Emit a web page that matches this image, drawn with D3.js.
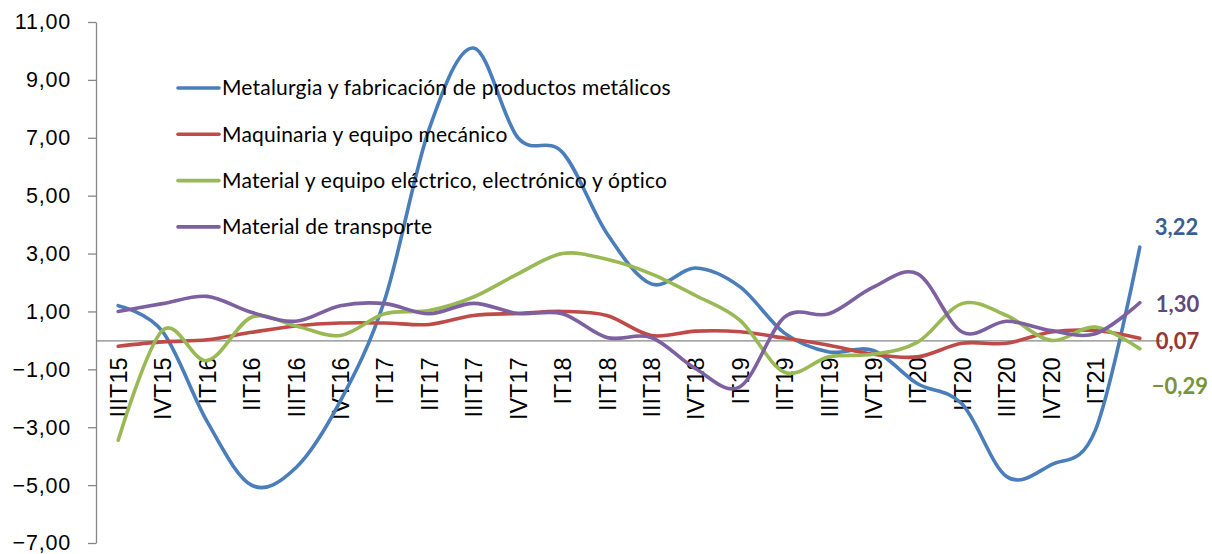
<!DOCTYPE html>
<html>
<head>
<meta charset="utf-8">
<script src="https://cdn.jsdelivr.net/npm/d3@7"></script>
<style>
  body { margin: 0; background: #fff; }
  svg { display: block; font-family: Lato, "Open Sans", sans-serif; }
  .axis path, .axis line { stroke: #868686; stroke-width: 1.3; }
  .axis text { fill: #000; }
  .series { fill: none; stroke-width: 3.6; stroke-linecap: round; stroke-linejoin: round; }
  .legend text { font-size: 21px; letter-spacing: 0.2px; fill: #000; }
  .end-label { font-size: 22px; font-weight: bold; }
</style>
</head>
<body>
<div id="chart"></div>
<script>
var width = 1212, height = 554;

// quarters (last one has no visible label in the original)
var quarters = ["IIIT15", "IVT15", "IT16", "IIT16", "IIIT16", "IVT16", "IT17", "IIT17",
  "IIIT17", "IVT17", "IT18", "IIT18", "IIIT18", "IVT18", "IT19", "IIT19", "IIIT19",
  "IVT19", "IT20", "IIT20", "IIIT20", "IVT20", "IT21", "IIT21"];
var hiddenLabels = ["IIT21"];

var yTicks = [-7, -5, -3, -1, 1, 3, 5, 7, 9, 11];

var metalurgia = [1.2, 0.3, -2.8, -5.0, -4.4, -2.1, 1.4, 7.3, 10.1, 7.0, 6.5, 3.7,
  1.95, 2.5, 1.85, 0.25, -0.4, -0.35, -1.5, -2.2, -4.7, -4.3, -3.1, 3.22];
var maquinaria = [-0.2, -0.05, 0.02, 0.28, 0.5, 0.6, 0.6, 0.55, 0.86, 0.93, 1.0, 0.86,
  0.17, 0.32, 0.3, 0.08, -0.17, -0.48, -0.57, -0.1, -0.1, 0.29, 0.34, 0.07];
var electrico = [-3.45, 0.35, -0.7, 0.8, 0.5, 0.17, 0.92, 1.03, 1.5, 2.3, 3.0, 2.8,
  2.3, 1.55, 0.69, -1.1, -0.57, -0.48, -0.06, 1.27, 0.86, 0.0, 0.46, -0.29];
var transporte = [1.0, 1.27, 1.52, 0.97, 0.66, 1.2, 1.27, 0.92, 1.28, 0.93, 0.92, 0.1,
  0.1, -0.98, -1.6, 0.8, 0.92, 1.84, 2.3, 0.29, 0.66, 0.34, 0.23, 1.30];

var seriesNames = ["Metalurgia y fabricación de productos metálicos",
  "Maquinaria y equipo mecánico",
  "Material y equipo eléctrico, electrónico y óptico",
  "Material de transporte"];
var seriesColors = ["#4a7ebb", "#be4b48", "#98b954", "#7d60a0"];
var labelColors = ["#376092", "#953735", "#77933c", "#604a7b"];
// nudge of the end labels (px), as placed in the original
var labelShift = [-20, 3, 38, 2];
var labelDx = [15, 16, 12, 16];

var es = d3.formatLocale({decimal: ",", thousands: ".", grouping: [3], currency: ["", "€"]});
var fmt = es.format(".2f");

var allSeries = [metalurgia, maquinaria, electrico, transporte].map(function(v, i) {
  return {name: seriesNames[i], values: v, color: seriesColors[i],
          labelColor: labelColors[i], shift: labelShift[i], dx: labelDx[i]};
});

var svg = d3.select("#chart").append("svg")
  .attr("width", width)
  .attr("height", height);

var x = d3.scalePoint()
  .domain(quarters)
  .range([96, 1162])
  .padding(0.5);

var y = d3.scaleLinear()
  .domain([-7, 11])
  .range([543, 22]);

// y axis
var yAxis = svg.append("g")
  .attr("class", "axis")
  .attr("transform", "translate(96,0)")
  .call(d3.axisLeft(y).tickValues(yTicks).tickFormat(fmt)
    .tickSize(8).tickSizeOuter(0).tickPadding(17));
yAxis.selectAll("text")
  .style("font-size", "21.5px")
  .style("letter-spacing", "0.8px");

// x axis on the zero line
var xAxis = svg.append("g")
  .attr("class", "axis")
  .attr("transform", "translate(0," + y(0) + ")")
  .call(d3.axisBottom(x).tickSize(0).tickSizeOuter(0)
    .tickFormat(function(d) { return hiddenLabels.indexOf(d) >= 0 ? "" : d; }));
xAxis.select(".domain").attr("d", "M96,0.5H1162");
xAxis.selectAll("text")
  .style("font-size", "23.5px")
  .attr("text-anchor", "end")
  .attr("transform", "rotate(-90)")
  .attr("x", -17)
  .attr("y", 0)
  .attr("dy", "0.35em");

var line = d3.line()
  .x(function(d, i) { return x(quarters[i]); })
  .y(function(d) { return y(d); })
  .curve(d3.curveCardinal.tension(0));

svg.selectAll(".series")
  .data(allSeries)
  .enter().append("path")
    .attr("class", "series")
    .attr("stroke", function(d) { return d.color; })
    .attr("d", function(d) { return line(d.values); });

// last value labels
var last = quarters.length - 1;
svg.selectAll(".end-label")
  .data(allSeries)
  .enter().append("text")
    .attr("class", "end-label")
    .attr("x", function(d) { return x(quarters[last]) + d.dx; })
    .attr("y", function(d) { return y(d.values[last]) + d.shift; })
    .attr("dy", "0.35em")
    .attr("fill", function(d) { return d.labelColor; })
    .text(function(d) { return fmt(d.values[last]); });

// legend
var legend = svg.append("g")
    .attr("class", "legend")
    .attr("transform", "translate(178,88)")
  .selectAll("g")
    .data(allSeries)
  .enter().append("g")
    .attr("transform", function(d, i) { return "translate(0," + (i * 46.3) + ")"; });

legend.append("line")
  .attr("x2", 41)
  .attr("stroke", function(d) { return d.color; })
  .attr("stroke-width", 3.6)
  .attr("stroke-linecap", "round");

legend.append("text")
  .attr("x", 44)
  .attr("dy", "0.35em")
  .text(function(d) { return d.name; });
</script>
</body>
</html>
